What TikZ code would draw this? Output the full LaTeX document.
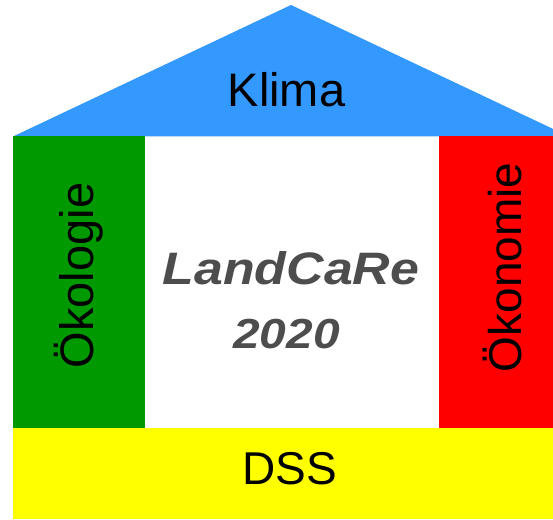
\documentclass[tikz,border=0pt]{standalone}
\usepackage{fontspec}
\setmainfont{Liberation Sans}
\definecolor{roofblue}{RGB}{51,153,255}
\definecolor{ecogreen}{RGB}{0,153,0}
\definecolor{econred}{RGB}{255,0,0}
\definecolor{dssyellow}{RGB}{255,255,0}
\definecolor{titlegray}{RGB}{77,77,77}
\tikzset{
  label text/.style={inner sep=0pt, anchor=base, text=black, font=\fontsize{47}{47}\selectfont},
  title text/.style={inner sep=0pt, anchor=base, text=titlegray, xscale=1.14},
}
\begin{document}
\begin{tikzpicture}[x=1pt,y=1pt]
\useasboundingbox (0,0) rectangle (553,519);
\fill[white] (0,0) rectangle (553,519);
% roof
\fill[roofblue] (13,382.5) -- (291,514) -- (553,390.1) -- (553,382.5) -- cycle;
% pillars
\fill[ecogreen] (13,90.5) rectangle (145,382.5);
\fill[econred] (439,90.5) rectangle (553,382.5);
% base
\fill[dssyellow] (13,0) rectangle (553,91);
% texts
\node[label text] (klima) at (286.5,412.3) {Klima};
\node[label text, rotate=90] (oeko) at (93,243.5) {Ökologie};
\node[label text, rotate=90, font=\fontsize{46}{46}\selectfont] (oekon) at (521.7,251.5) {Ökonomie};
\node[label text, font=\fontsize{46}{46}\selectfont] (dss) at (290,34.7) {DSS};
\node[title text, font=\fontsize{45.5}{45.5}\selectfont\bfseries\itshape] (title1) at (291,234) {LandCaRe};
\node[title text, font=\fontsize{42}{42}\selectfont\bfseries\itshape] (title2) at (286.5,170.7) {2020};
\end{tikzpicture}
\end{document}
